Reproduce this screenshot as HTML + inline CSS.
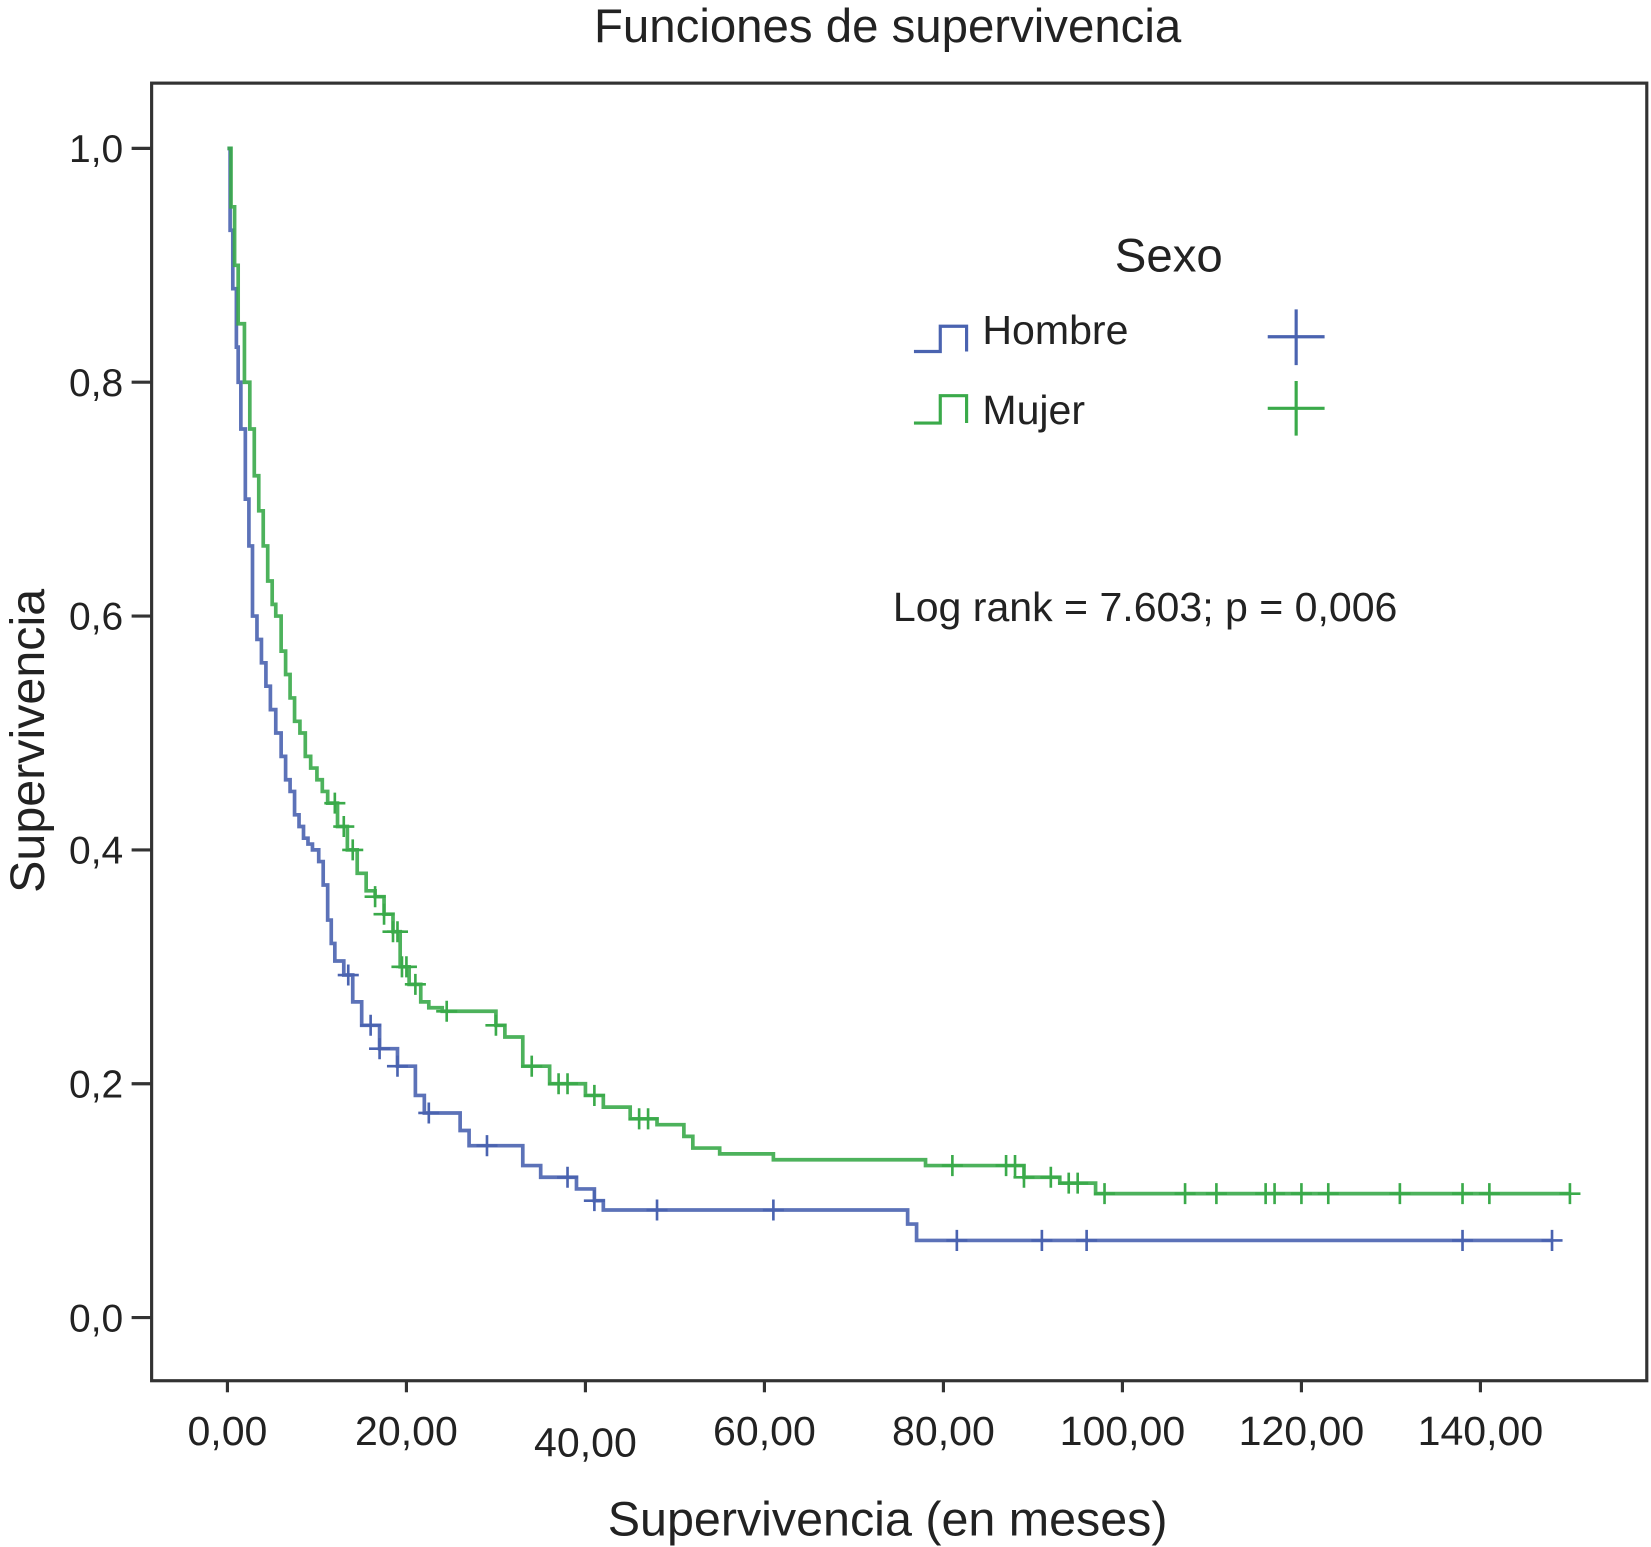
<!DOCTYPE html>
<html><head><meta charset="utf-8"><style>
html,body{margin:0;padding:0;background:#fff;}
svg{display:block;}
text{font-family:"Liberation Sans",sans-serif;fill:#222;}
</style></head><body>
<svg id="chart" width="1651" height="1547" viewBox="0 0 1568 1470" preserveAspectRatio="none" xmlns="http://www.w3.org/2000/svg">
<text x="843" y="40" font-size="45" text-anchor="middle">Funciones de supervivencia</text>
<rect x="144" y="79" width="1420" height="1233" fill="none" stroke="#333" stroke-width="3"/>
<g id="axes"></g>
<g id="series"></g>
<text transform="translate(42,704) rotate(-90)" font-size="46" text-anchor="middle">Supervivencia</text>
<text x="843" y="1459" font-size="46" text-anchor="middle">Supervivencia (en meses)</text>
<g>
<text x="1110" y="258" font-size="45" text-anchor="middle">Sexo</text>
<path d="M868 334 H893 V310 H918 V334" fill="none" stroke="#4a63b0" stroke-width="3"/>
<text x="933" y="327" font-size="39">Hombre</text>
<path d="M1204 320 H1258 M1231 294 V347" stroke="#4a63b0" stroke-width="3"/>
<path d="M868 402 H893 V376 H918 V402" fill="none" stroke="#3aaa4a" stroke-width="3"/>
<text x="933" y="403" font-size="39">Mujer</text>
<path d="M1204 388 H1258 M1231 362 V414" stroke="#3aaa4a" stroke-width="3"/>
</g>
<text x="848" y="590" font-size="39">Log rank = 7.603; p = 0,006</text>
</svg>
<script>
const xTicks=[0,20,40,60,80,100,120,140];
const xTickLabels=["0,00","20,00","40,00","60,00","80,00","100,00","120,00","140,00"];
const yTicks=[0,0.2,0.4,0.6,0.8,1.0];
const yTickLabels=["0,0","0,2","0,4","0,6","0,8","1,0"];
const hombreT=[0,0.3,0.6,1,1.2,1.5,2,2.4,2.8,3.3,3.8,4.3,4.8,5.4,6,6.5,7,7.5,8,8.5,9,9.5,10.2,10.7,11.2,11.6,12,13,14,15,17,19,21,22,26,27,33,35,39,41,42,76,77,148];
const hombreS=[1,0.93,0.88,0.83,0.8,0.76,0.7,0.66,0.6,0.58,0.56,0.54,0.52,0.5,0.48,0.46,0.45,0.43,0.42,0.41,0.405,0.4,0.39,0.37,0.34,0.32,0.305,0.293,0.27,0.25,0.23,0.215,0.19,0.175,0.16,0.147,0.13,0.12,0.11,0.1,0.092,0.08,0.066,0.066];
const hombreCensT=[13.5,16,17,19,22.5,29,38,41,48,61,81.5,91,96,138,148];
const mujerT=[0,0.4,0.8,1.2,1.9,2.5,3,3.5,4,4.5,5,5.4,6,6.5,7,7.5,8.1,8.7,9.3,10,10.6,11.2,12.3,13.4,14.5,15.5,16.5,17.5,18.5,19.3,20.3,21.6,22.5,24,30,31,33,36,40,42,45,48,51,52,55,61,78,89,93,97,150];
const mujerS=[1,0.95,0.9,0.85,0.8,0.76,0.72,0.69,0.66,0.63,0.61,0.6,0.57,0.55,0.53,0.51,0.5,0.48,0.47,0.46,0.45,0.44,0.42,0.4,0.38,0.365,0.36,0.345,0.33,0.3,0.285,0.27,0.265,0.262,0.25,0.24,0.215,0.2,0.19,0.18,0.17,0.165,0.155,0.145,0.14,0.135,0.13,0.12,0.115,0.106,0.106];
const mujerCensT=[12,13,14,16.5,17.5,18.5,19,19.5,20,21,24.5,30,34,37,38,41,46,47,81,87,88,89,92,94,95,98,107,110.5,116,117,120,123,131,138,141,150];
const NS="http://www.w3.org/2000/svg";
const xs=t=>216+t*8.5;
const ys=v=>1252-v*1111;
function mk(tag,attrs,parent){const e=document.createElementNS(NS,tag);for(const k in attrs)e.setAttribute(k,attrs[k]);parent.appendChild(e);return e;}
const axes=document.getElementById('axes');
xTicks.forEach((t,i)=>{
  const tk=mk('line',{x1:xs(t),x2:xs(t),y1:1312,y2:1323,stroke:'#333','stroke-width':3},axes);
  
  
  const lb=mk('text',{x:xs(t),y:(t===40?1384:1373),'font-size':39,'text-anchor':'middle'},axes);
  lb.textContent=xTickLabels[i];
  
  
});
yTicks.forEach((v,i)=>{
  const tk=mk('line',{x1:125,x2:144,y1:ys(v),y2:ys(v),stroke:'#333','stroke-width':3},axes);
  
  
  const lb=mk('text',{x:117,y:ys(v)+13,'font-size':37,'text-anchor':'end'},axes);
  lb.textContent=yTickLabels[i];
  
  
});
function stepVal(T,S,t){let v=S[0];for(let i=0;i<T.length;i++){if(T[i]<=t)v=S[i];}return v;}
const series=document.getElementById('series');
function drawSeries(name,T,S,C,color){
  let d='M'+xs(T[0])+' '+ys(S[0]);
  for(let i=1;i<T.length;i++){d+=' H'+xs(T[i])+' V'+ys(S[i]);}
  const p=mk('path',{d:d,fill:'none',stroke:color,'stroke-width':3.5,'stroke-opacity':0.9},series);
  
  
  C.forEach(t=>{
    const x=xs(t),y=ys(stepVal(T,S,t));
    const c=mk('path',{d:'M'+(x-10)+' '+y+' H'+(x+10)+' M'+x+' '+(y-10)+' V'+(y+10),stroke:color,'stroke-width':2.5},series);
    
    
  });
}
drawSeries('hombre',hombreT,hombreS,hombreCensT,'#4a63b0');
drawSeries('mujer',mujerT,mujerS,mujerCensT,'#3aaa4a');
</script>
</body></html>
